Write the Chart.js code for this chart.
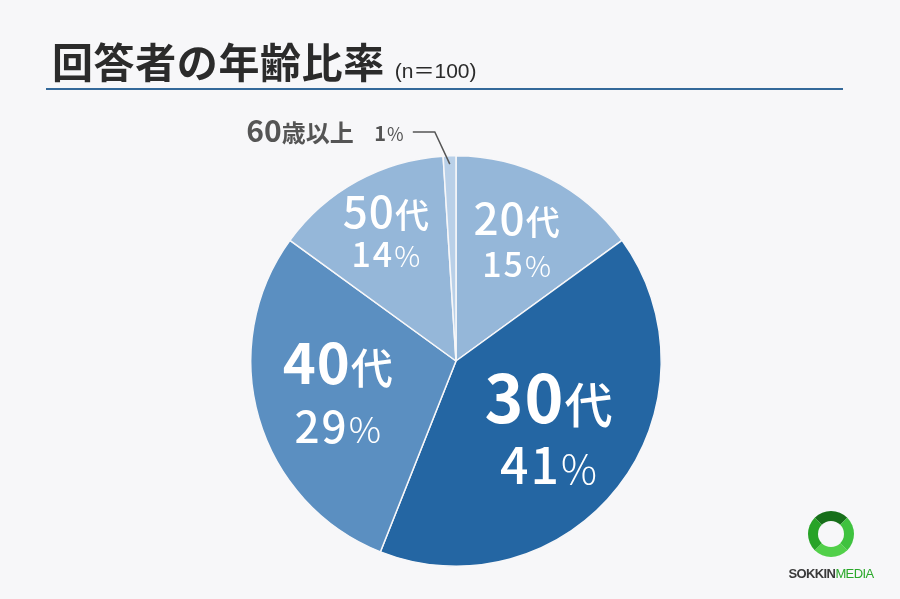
<!DOCTYPE html>
<html lang="ja">
<head>
  <meta charset="UTF-8">
  <title>回答者の年齢比率</title>
  <script src="https://cdn.jsdelivr.net/npm/chart.js"></script>
  <style>
    body {
      margin: 0;
      background: #f7f7f9;
      font-family: 'Noto Sans CJK JP', sans-serif;
    }
    .wrap {
      position: relative;
      width: 900px;
      height: 599px;
    }
    .title {
      position: absolute;
      left: 52px;
      top: 30px;
      font-size: 41px;
      font-weight: 700;
      color: #2b2b2b;
      white-space: nowrap;
      letter-spacing: 0.6px;
    }
    .title small {
      font-family: 'Liberation Sans', 'Noto Sans CJK JP', sans-serif;
      font-size: 21px;
      font-weight: 400;
      margin-left: 10px;
      letter-spacing: 0;
    }
    .rule {
      position: absolute;
      left: 46px;
      top: 88px;
      width: 797px;
      height: 2px;
      background: #34699a;
    }
    .logo {
      position: absolute;
      left: 780px;
      top: 511px;
      width: 102px;
      text-align: center;
    }
    .ring {
      width: 26px;
      height: 26px;
      margin: 0 auto;
      border-radius: 50%;
      border: 10px solid #27a327;
      border-top-color: #176f1a;
      border-right-color: #3fc23f;
      border-bottom-color: #52d04a;
    }
    .logo-text {
      font-family: 'Liberation Sans', Arial, sans-serif;
      font-size: 13px;
      font-weight: 700;
      letter-spacing: -0.6px;
      margin-top: 9px;
      color: #3a3a3a;
    }
    .logo-text span { color: #2aa82a; font-weight: 400; }
    canvas { position: absolute; left: 0; top: 0; }
  </style>
</head>
<body>
<div class="wrap">
  <canvas id="pie" width="900" height="599"></canvas>
  <div class="title">回答者の年齢比率<small>(n＝100)</small></div>
  <div class="rule"></div>
  <div class="logo">
    <div class="ring"></div>
    <div class="logo-text">SOKKIN<span>MEDIA</span></div>
  </div>
</div>

<script>
const ageNums = ['20', '30', '40', '50', '60'];
const ageSuffix = ['代', '代', '代', '代', '歳以上'];
const shares = [15, 41, 29, 14, 1];
const sliceColors = ['#95b7d9', '#2466a3', '#5b8fc1', '#95b7d9', '#b9d0e8'];

// label look for each big slice
const labelStyle = [
  { dist: 0.65, gap: 23, num: 44, kanji: 34, w: 500, pNum: 34, pct: 29, pw: 500 },
  { dist: 0.57, gap: 33, num: 66, kanji: 48, w: 700, pNum: 50, pct: 40, pw: 500 },
  { dist: 0.60, gap: 32, num: 56, kanji: 42, w: 700, pNum: 44, pct: 36, pw: 500 },
  { dist: 0.71, gap: 21, num: 44, kanji: 34, w: 500, pNum: 34, pct: 29, pw: 500 }
];

function font(w, s) {
  return w + ' ' + s + "px 'Noto Sans CJK JP'";
}

// draws two differently sized parts centred on x, sharing a baseline
function drawPair(ctx, a, fa, b, fb, x, baseline, spacing) {
  ctx.font = fa;
  const wa = ctx.measureText(a).width + spacing * a.length;
  ctx.font = fb;
  const wb = ctx.measureText(b).width;
  let cx = x - (wa + wb) / 2;
  ctx.font = fa;
  for (const ch of a) {
    ctx.fillText(ch, cx, baseline);
    cx += ctx.measureText(ch).width + spacing;
  }
  ctx.font = fb;
  ctx.fillText(b, cx, baseline);
}

const labelPlugin = {
  id: 'sliceLabels',
  afterDatasetsDraw(chart) {
    const ctx = chart.ctx;
    const arcs = chart.getDatasetMeta(0).data;
    ctx.save();
    ctx.textAlign = 'left';
    ctx.textBaseline = 'alphabetic';
    arcs.forEach((arc, i) => {
      const st = labelStyle[i];
      if (!st) return;
      const mid = (arc.startAngle + arc.endAngle) / 2;
      const r = arc.outerRadius * st.dist;
      const x = arc.x + Math.cos(mid) * r;
      const y = arc.y + Math.sin(mid) * r;
      ctx.fillStyle = '#ffffff';
      drawPair(ctx, ageNums[i], font(st.w, st.num), ageSuffix[i], font(500, st.kanji),
        x, y - st.gap + st.num * 0.36, 1);
      drawPair(ctx, String(shares[i]), font(st.pw, st.pNum), '%', font(300, st.pct),
        x, y + st.gap + st.pNum * 0.36, 2);
    });

    // smallest slice: label outside with a leader line
    const last = arcs[arcs.length - 1];
    const mid = (last.startAngle + last.endAngle) / 2;
    const px = last.x + Math.cos(mid) * (last.outerRadius * 0.96);
    const py = last.y + Math.sin(mid) * (last.outerRadius * 0.96);
    ctx.strokeStyle = '#555555';
    ctx.lineWidth = 1.5;
    ctx.beginPath();
    ctx.moveTo(px, py);
    ctx.lineTo(px - 15, 132);
    ctx.lineTo(px - 37, 132);
    ctx.stroke();
    ctx.fillStyle = '#555555';
    drawPair(ctx, String(shares[4]), font(700, 20), '%', font(400, 18), 389, 141, 1);
    drawPair(ctx, ageNums[4], font(700, 30), ageSuffix[4], font(700, 24), 300, 142, 0);
    ctx.restore();
  }
};

new Chart(document.getElementById('pie'), {
  type: 'pie',
  data: {
    labels: ageNums.map((n, i) => n + ageSuffix[i]),
    datasets: [{
      data: shares,
      backgroundColor: sliceColors,
      borderColor: '#f7f7f9',
      borderWidth: 1.5
    }]
  },
  options: {
    responsive: false,
    animation: false,
    layout: { padding: { top: 155, bottom: 32, left: 250, right: 238 } },
    plugins: {
      legend: { display: false },
      tooltip: { enabled: false }
    }
  },
  plugins: [labelPlugin]
});
</script>
</body>
</html>
